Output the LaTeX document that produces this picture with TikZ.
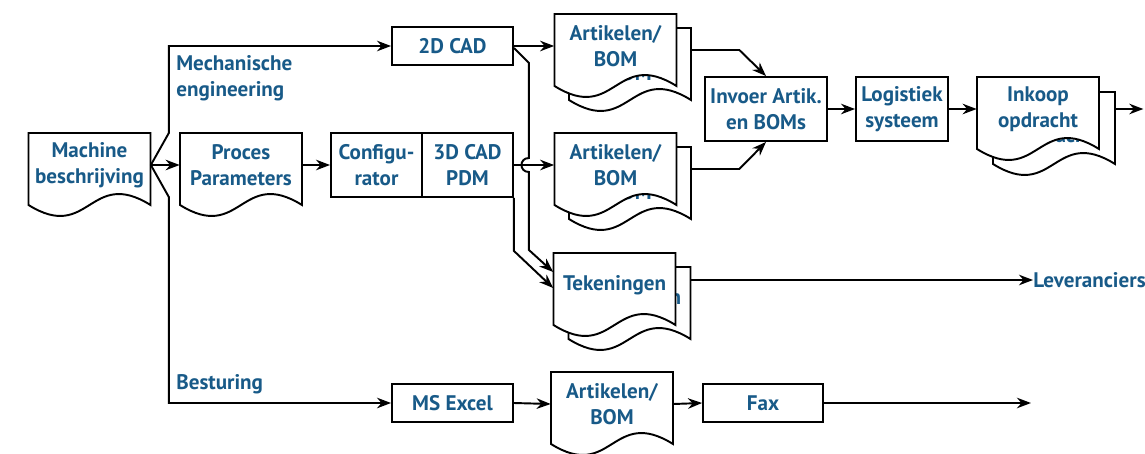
\documentclass[tikz,border=0pt]{standalone}
\usepackage{fontspec}
\setmainfont{PT Sans}
\usepackage{tikz}
\usetikzlibrary{arrows.meta,calc,positioning}
\definecolor{txtblue}{RGB}{24,90,136}

\tikzset{
  txt/.style={font=\bfseries\fontsize{12}{14.7}\selectfont, text=txtblue, align=center, inner sep=0pt},
  box/.style={txt, draw, line width=1.1pt, minimum width=#1, minimum height=1.28cm},
  slimbox/.style={box=#1, minimum height=0.76cm},
  doctext/.style={txt, minimum width=2.44cm, minimum height=1.28cm},
  pageline/.style={draw, fill=white, line width=1.1pt},
  lbl/.style={txt, align=left, anchor=west},
  arr/.style={line width=1.1pt, -{Stealth[length=8pt,width=6pt]}},
}

% page with a wavy bottom: #1 name, #2 centre, #3 text
\newcommand{\docpage}[3]{%
  \path #2 coordinate (#1-c);
  \draw[pageline] ($(#1-c)+(-61,-32)$) -- ($(#1-c)+(61,-32)$) -- ($(#1-c)+(61,40)$)
    .. controls ($(#1-c)+(0,2)$) and ($(#1-c)+(0,78)$) .. ($(#1-c)+(-61,40)$) -- cycle;
  \node[doctext] (#1) at (#1-c) {#3};
}

\begin{document}
\begin{tikzpicture}[x=0.02cm,y=-0.02cm]
\useasboundingbox (0,0) rectangle (1145,453);

\docpage{mach}{(89.5,165)}{Machine\\beschrijving}
\docpage{proc}{(241,165)}{Proces\\Parameters}

\node[box=1.82cm] (conf) at (376.5,165) {Configu-\\rator};
\node[box=1.82cm] (cad3) at (467.5,165) {3D CAD\\PDM};
\node[slimbox=2.42cm] (cad2) at (452.5,46) {2D CAD};

\docpage{art1b}{(630,60)}{Artikelen/\\BOM}
\docpage{art1}{(615.5,46)}{Artikelen/\\BOM}
\docpage{art2b}{(630,179)}{Artikelen/\\BOM}
\docpage{art2}{(615.5,165)}{Artikelen/\\BOM}
\docpage{tekb}{(629.5,299)}{Tekeningen}
\docpage{tek}{(614.5,285)}{Tekeningen}

\node[box=2.44cm] (inv) at (766,109) {Invoer Artik.\\en BOMs};
\node[box=1.84cm] (log) at (902,109) {Logistiek\\systeem};

\docpage{inkb}{(1054,124)}{Inkoop\\opdracht}
\docpage{ink}{(1038,109)}{Inkoop\\opdracht}

\node[slimbox=2.42cm] (excel) at (452.5,403) {MS Excel};
\docpage{art3}{(612,404)}{Artikelen/\\BOM}
\node[slimbox=2.4cm] (fax) at (763,403) {Fax};

\node[lbl] (mech) at (176,78) {Mechanische\\engineering};
\node[lbl] (best) at (176,384) {Besturing};
\node[lbl] (lev) at (1033,280) {Leveranciers};

\draw[arr] (mach.east) -- (proc.west);
\draw[arr] (mach.east) -- ++(18,-32) |- (cad2.west);
\draw[arr] (mach.east) -- ++(18,32) |- (excel.west);
\draw[arr] (proc.east) -- (conf.west);
\draw[arr] (cad2.east) -- (art1.west);
\draw[arr] (cad3.east) -- (art2.west);
\draw[arr] ([yshift=-0.04cm]cad2.east) -- ++(15,15) -- ++(0,95)
  .. controls +(-10,0) and +(-10,0) .. ++(0,14) -- ++(0,78) -- ([yshift=0.26cm]tek.west);
\draw[arr] (cad3.south east) -- ++(0,53) -- ([yshift=-0.06cm]tek.west);
\draw[arr] ($(art1b.east)+(0,-10)$) -- ++(48,0) -- (inv.north);
\draw[arr] ($(art2b.east)+(0,-10)$) -- ++(48,0) -- (inv.south);
\draw[arr] (inv.east) -- (log.west);
\draw[arr] (log.east) -- (ink.west);
\draw[arr] (inkb.east |- ink.east) -- ++(28,0);
\draw[arr] (tekb.east |- lev.west) -- (lev.west);
\draw[arr] (excel.east) -- (art3.west);
\draw[arr] (art3.east) -- (fax.west);
\draw[arr] (fax.east) -- ++(207,0);
\end{tikzpicture}
\end{document}
